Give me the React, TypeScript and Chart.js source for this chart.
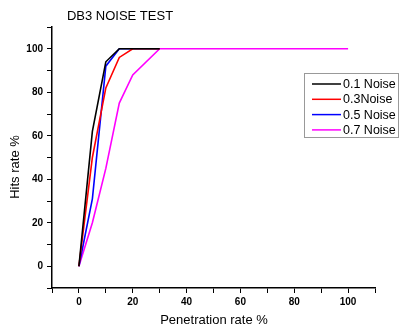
import React, { useEffect, useRef } from "react";
import { Chart, registerables } from "chart.js";

Chart.register(...registerables);

const xShort = [0, 5, 10, 15, 20, 30];
const xLong = [0, 5, 10, 15, 20, 30, 100];
const noise01 = [0, 62, 94, 100, 100, 100];
const noise03 = [0, 50, 82, 96, 100, 100];
const noise05 = [0, 31, 92, 100, 100, 100];
const noise07 = [0, 20, 45, 75, 88, 100, 100];
const seriesNames = ["0.1 Noise", "0.3Noise", "0.5 Noise", "0.7 Noise"];
const seriesColors = ["#000000", "#ff0000", "#0000ff", "#ff00ff"];
const titleText = "DB3 NOISE TEST";
const xTitle = "Penetration rate %";
const yTitle = "Hits rate %";

const toPts = (xs: number[], ys: number[]) => ys.map((y, i) => ({ x: xs[i], y }));

export default function App() {
  const ref = useRef<HTMLCanvasElement | null>(null);
  useEffect(() => {
    if (!ref.current) return;
    const seriesData = [
      toPts(xShort, noise01),
      toPts(xShort, noise03),
      toPts(xShort, noise05),
      toPts(xLong, noise07),
    ];
    const textPlugin = {
      id: "texts",
      afterDraw(chart: any) {
        const ctx = chart.ctx;
        const ca = chart.chartArea;
        ctx.save();
        ctx.fillStyle = "#000";
        ctx.textBaseline = "middle";
        // title
        ctx.font = "13px 'Liberation Sans', Arial, sans-serif";
        ctx.textAlign = "center";
        ctx.fillText(titleText, 120, 16);
        // x title
        ctx.font = "13px 'Liberation Sans', Arial, sans-serif";
        ctx.fillText(xTitle, (ca.left + ca.right) / 2 + 0.5, 320);
        // y title
        ctx.save();
        ctx.translate(15, 167);
        ctx.rotate(-Math.PI / 2);
        ctx.fillText(yTitle, 0, 0);
        ctx.restore();
        // legend
        const lx = 304, ly = 73, lw = 94, lh = 64;
        ctx.fillStyle = "#fff";
        ctx.fillRect(lx, ly, lw, lh);
        ctx.strokeStyle = "#999";
        ctx.lineWidth = 1;
        ctx.strokeRect(lx + 0.5, ly + 0.5, lw, lh);
        ctx.font = "12.5px 'Liberation Sans', Arial, sans-serif";
        ctx.textAlign = "left";
        seriesNames.forEach((name, i) => {
          const y = 84 + i * 15.3;
          ctx.strokeStyle = seriesColors[i];
          ctx.lineWidth = 1.5;
          ctx.beginPath();
          ctx.moveTo(312, y);
          ctx.lineTo(341, y);
          ctx.stroke();
          ctx.fillStyle = "#000";
          ctx.fillText(name, 343, y + 0.5);
        });
        ctx.restore();
      },
    };
    const chart = new Chart(ref.current, {
      type: "line",
      data: {
        datasets: seriesData.map((d, i) => ({
          label: seriesNames[i],
          data: d,
          borderColor: seriesColors[i],
          backgroundColor: seriesColors[i],
          borderWidth: 1.6,
          pointRadius: 0,
          tension: 0,
          fill: false,
        })),
      },
      options: {
        animation: false,
        responsive: false,
        maintainAspectRatio: false,
        layout: { padding: { top: 27, right: 24, left: 0, bottom: 0 } },
        plugins: { legend: { display: false }, title: { display: false }, tooltip: { enabled: false } },
        scales: {
          x: {
            type: "linear",
            min: -10,
            max: 110,
            afterFit(scale: any) {
              scale.height = 41;
            },
            border: { display: true, color: "#000", width: 1.5 },
            grid: { drawOnChartArea: false, drawTicks: true, tickLength: 5, color: "#000", lineWidth: 1 },
            ticks: {
              stepSize: 10,
              autoSkip: false,
              maxRotation: 0,
              padding: 3,
              color: "#000",
              font: { family: "'Liberation Sans', Arial, sans-serif", size: 10, weight: "bold" },
              callback: (v: any) => (v >= 0 && v % 20 === 0 ? String(v) : ""),
            },
          },
          y: {
            min: -10,
            max: 110,
            afterFit(scale: any) {
              scale.width = 52;
            },
            border: { display: true, color: "#000", width: 1.5 },
            grid: { drawOnChartArea: false, drawTicks: true, tickLength: 5, color: "#000", lineWidth: 1 },
            ticks: {
              stepSize: 10,
              autoSkip: false,
              padding: 4,
              color: "#000",
              font: { family: "'Liberation Sans', Arial, sans-serif", size: 10, weight: "bold" },
              callback: (v: any) => (v >= 0 && v <= 100 && v % 20 === 0 ? String(v) : ""),
            },
          },
        },
      },
      plugins: [textPlugin],
    });
    return () => chart.destroy();
  }, []);
  return (
    <div style={{ position: "absolute", left: 0, top: 0, width: 399, height: 329, background: "#fff" }}>
      <canvas ref={ref} width={399} height={329} style={{ width: 399, height: 329 }} />
    </div>
  );
}
